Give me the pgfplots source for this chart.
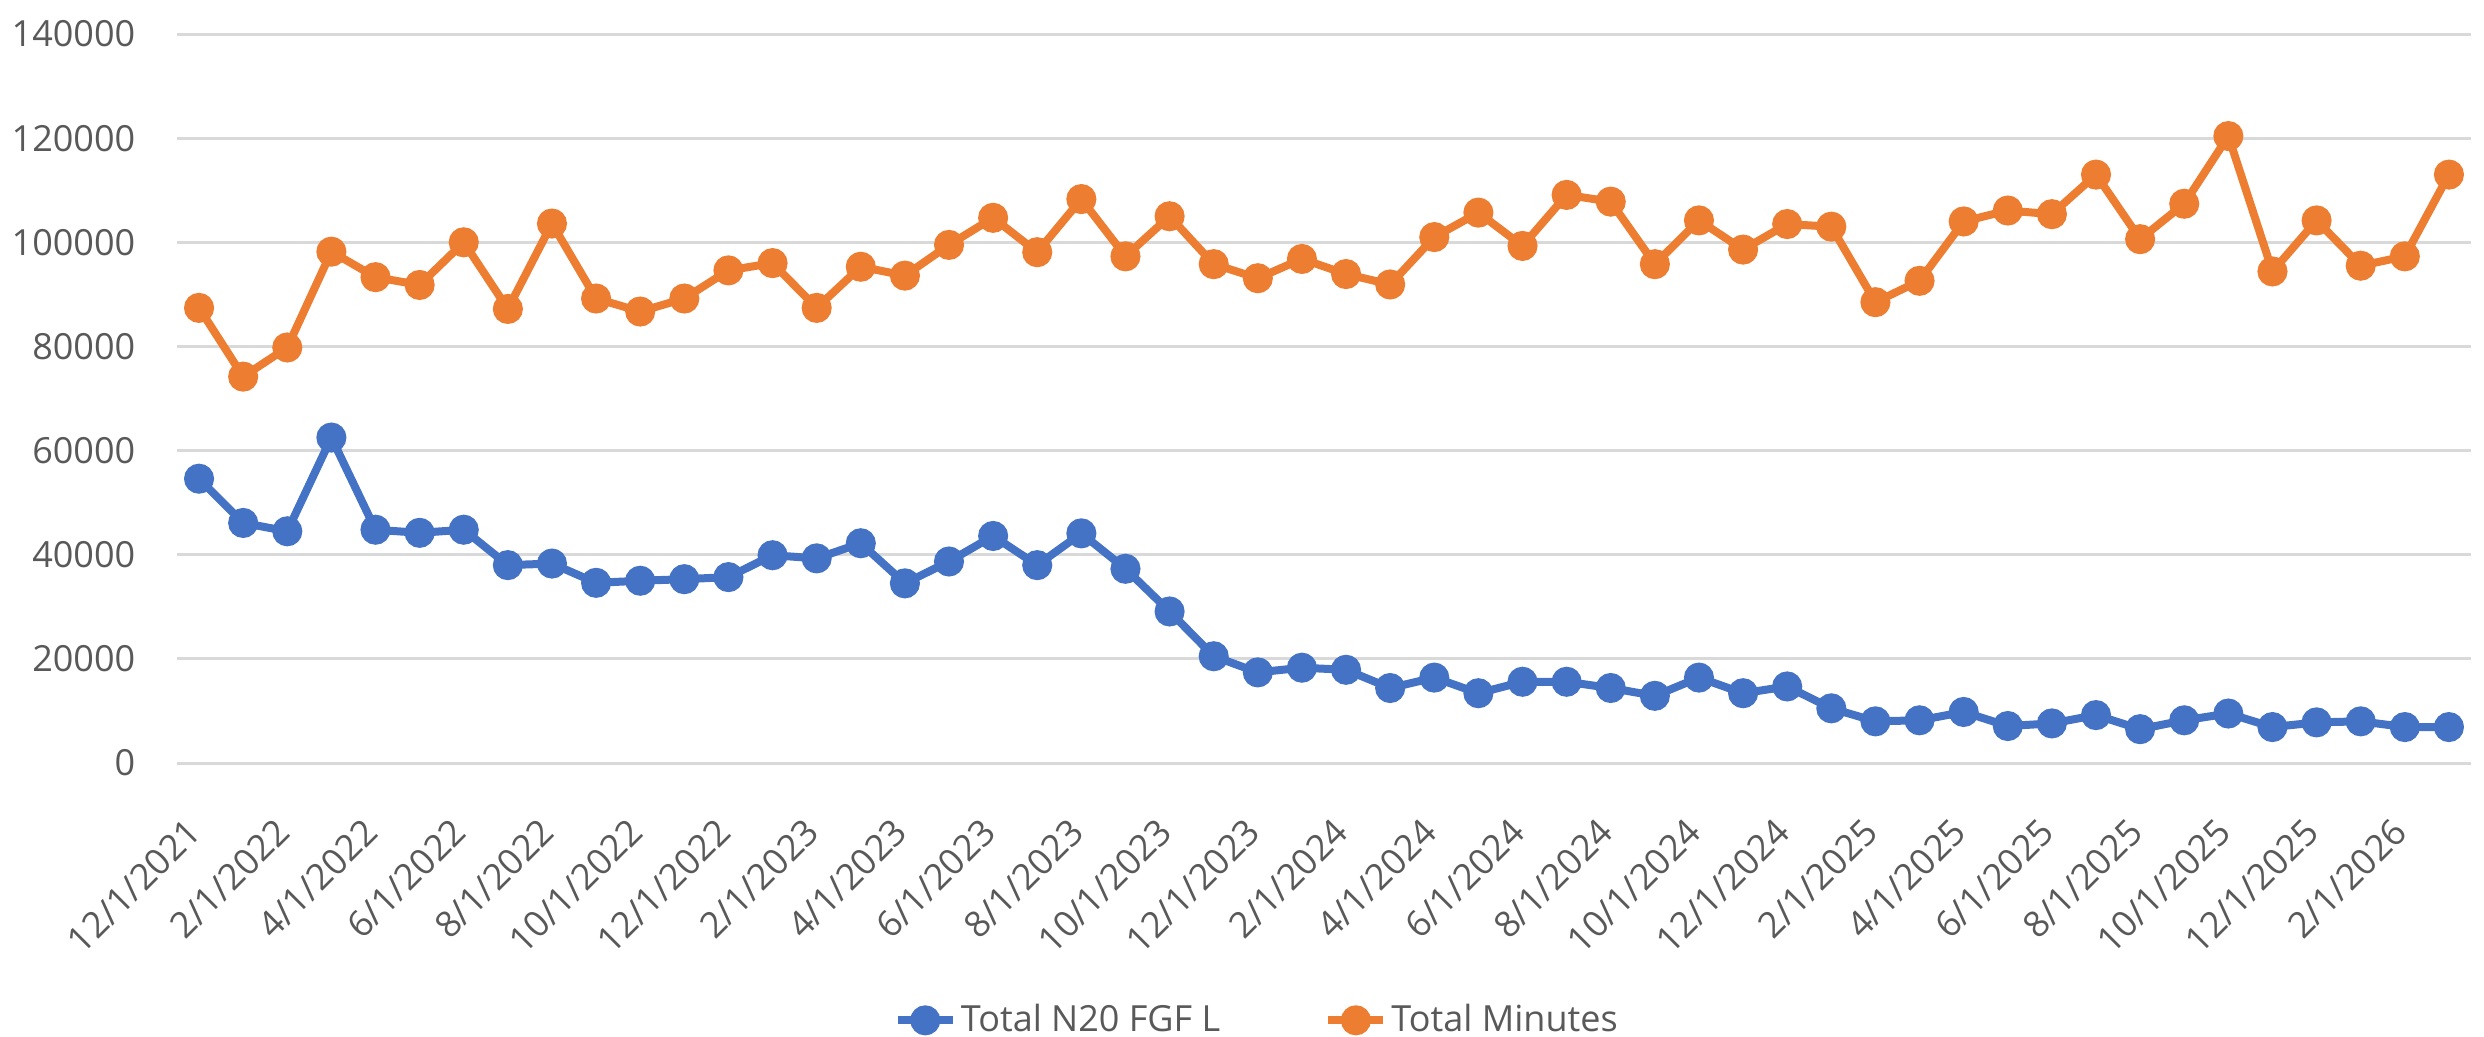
\documentclass[border=0pt]{standalone}
\usepackage{pgfplots}
\pgfplotsset{compat=1.18}
\usepackage{fontspec}
\setmainfont{Open Sans}
\definecolor{xlblue}{HTML}{4472C4}
\definecolor{xlorange}{HTML}{ED7D31}
\definecolor{gridgray}{HTML}{D9D9D9}
\definecolor{txtgray}{HTML}{595959}
\begin{document}
\begin{tikzpicture}
\path[use as bounding box] (-44.25pt,-68.5pt) rectangle (576.75pt,190.75pt);
\begin{axis}[
  at={(0pt,0pt)}, anchor=south west,
  scale only axis, width=573.5pt, height=182.25pt,
  xmin=-0.5, xmax=51.5, ymin=0, ymax=140000,
  axis line style={draw=none},
  major tick length=0pt,
  ymajorgrids,
  grid style={draw=gridgray, line width=0.75pt},
  ytick={0,20000,40000,60000,80000,100000,120000,140000},
  yticklabels={0,20000,40000,60000,80000,100000,120000,140000},
  scaled y ticks=false,
  xtick={0,2,...,50},
  xticklabels={12/1/2021,2/1/2022,4/1/2022,6/1/2022,8/1/2022,10/1/2022,12/1/2022,2/1/2023,4/1/2023,6/1/2023,8/1/2023,10/1/2023,12/1/2023,2/1/2024,4/1/2024,6/1/2024,8/1/2024,10/1/2024,12/1/2024,2/1/2025,4/1/2025,6/1/2025,8/1/2025,10/1/2025,12/1/2025,2/1/2026},
  ticklabel style={font=\fontsize{9}{11}\selectfont, text=txtgray},
  yticklabel style={anchor=east, inner sep=0pt, xshift=-10.25pt},
  xticklabel style={xshift=-3.5pt, yshift=-13pt, rotate=45, anchor=north east, inner sep=0pt},
  legend columns=2,
  legend style={at={(0.4711,-0.353)}, anchor=center, draw=none, fill=none,
    font=\fontsize{9}{11}\selectfont, text=txtgray,
    /tikz/every even column/.append style={column sep=25pt},
    nodes={inner sep=1pt}},
  legend image code/.code={\draw[mark repeat=2,mark phase=2,#1] plot coordinates {(0pt,0pt) (6.9pt,0pt) (13.8pt,0pt)};},
  every axis plot/.append style={line width=2pt, mark=*, mark size=2.75pt},
]
\addplot[color=xlblue, mark options={fill=xlblue, draw=xlblue}] coordinates {
(0,54600) (1,46100) (2,44500) (3,62500) (4,44800) (5,44200) (6,44800) (7,38000)
(8,38300) (9,34600) (10,35000) (11,35300) (12,35700) (13,39900) (14,39300) (15,42200)
(16,34500) (17,38700) (18,43600) (19,38000) (20,44100) (21,37300) (22,29100) (23,20500)
(24,17400) (25,18300) (26,17900) (27,14400) (28,16400) (29,13400) (30,15600) (31,15600)
(32,14400) (33,12900) (34,16400) (35,13400) (36,14700) (37,10500) (38,8000) (39,8200)
(40,9800) (41,7100) (42,7600) (43,9200) (44,6500) (45,8200) (46,9500) (47,6900)
(48,7800) (49,8000) (50,6900) (51,6900)
};
\addlegendentry{Total N20 FGF L}
\addplot[color=xlorange, mark options={fill=xlorange, draw=xlorange}] coordinates {
(0,87400) (1,74200) (2,79800) (3,98200) (4,93300) (5,91800) (6,100000) (7,87200)
(8,103600) (9,89200) (10,86700) (11,89200) (12,94600) (13,96000) (14,87400) (15,95300)
(16,93600) (17,99500) (18,104700) (19,98100) (20,108300) (21,97300) (22,105000) (23,95800)
(24,93100) (25,96800) (26,93900) (27,91900) (28,101000) (29,105700) (30,99300) (31,109100)
(32,107800) (33,95800) (34,104200) (35,98600) (36,103500) (37,103000) (38,88500) (39,92600)
(40,104000) (41,106100) (42,105400) (43,113000) (44,100600) (45,107400) (46,120400) (47,94400)
(48,104200) (49,95500) (50,97300) (51,113000)
};
\addlegendentry{Total Minutes}
\end{axis}
\end{tikzpicture}
\end{document}
